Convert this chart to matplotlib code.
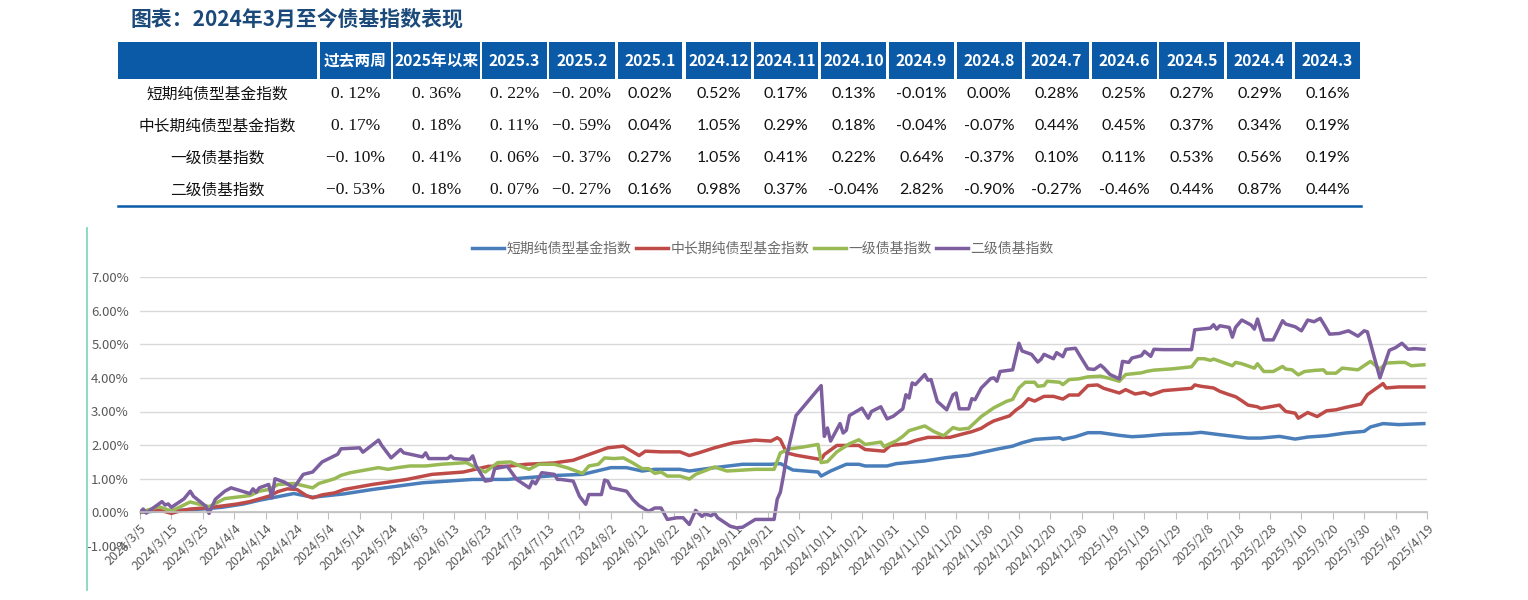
import matplotlib
matplotlib.use("Agg")
import matplotlib.pyplot as plt
import matplotlib.dates as mdates
import pandas as pd
from matplotlib.lines import Line2D
from matplotlib.patches import Rectangle
from matplotlib.ticker import FuncFormatter, FixedLocator

plt.rcParams['font.family'] = ['Noto Sans CJK SC', 'DejaVu Sans']

# ---------------- data ----------------
title = "图表：2024年3月至今债基指数表现"
series_names = ["短期纯债型基金指数", "中长期纯债型基金指数", "一级债基指数", "二级债基指数"]

table_cols = ["过去两周", "2025年以来", "2025.3", "2025.2", "2025.1", "2024.12", "2024.11",
              "2024.10", "2024.9", "2024.8", "2024.7", "2024.6", "2024.5", "2024.4", "2024.3"]
table_vals = [
    ["0.12%", "0.36%", "0.22%", "-0.20%", "0.02%", "0.52%", "0.17%", "0.13%", "-0.01%", "0.00%", "0.28%", "0.25%", "0.27%", "0.29%", "0.16%"],
    ["0.17%", "0.18%", "0.11%", "-0.59%", "0.04%", "1.05%", "0.29%", "0.18%", "-0.04%", "-0.07%", "0.44%", "0.45%", "0.37%", "0.34%", "0.19%"],
    ["-0.10%", "0.41%", "0.06%", "-0.37%", "0.27%", "1.05%", "0.41%", "0.22%", "0.64%", "-0.37%", "0.10%", "0.11%", "0.53%", "0.56%", "0.19%"],
    ["-0.53%", "0.18%", "0.07%", "-0.27%", "0.16%", "0.98%", "0.37%", "-0.04%", "2.82%", "-0.90%", "-0.27%", "-0.46%", "0.44%", "0.87%", "0.44%"],
]

short_dates = ["2024-03-05", "2024-03-11", "2024-03-17", "2024-03-25", "2024-03-31", "2024-04-07", "2024-04-12",
               "2024-04-17", "2024-04-23", "2024-04-29", "2024-05-04", "2024-05-09", "2024-05-18", "2024-06-03",
               "2024-06-19", "2024-06-30", "2024-07-06", "2024-07-16", "2024-07-24", "2024-08-02", "2024-08-07",
               "2024-08-12", "2024-08-16", "2024-08-24", "2024-08-27", "2024-09-04", "2024-09-13", "2024-09-22",
               "2024-09-25", "2024-09-29", "2024-10-07", "2024-10-08", "2024-10-11", "2024-10-16", "2024-10-20",
               "2024-10-22", "2024-10-29", "2024-11-01", "2024-11-10", "2024-11-17", "2024-11-24", "2024-11-28",
               "2024-11-30", "2024-12-03", "2024-12-08", "2024-12-11", "2024-12-15", "2024-12-18", "2024-12-23",
               "2024-12-24", "2024-12-28", "2025-01-01", "2025-01-05", "2025-01-11", "2025-01-15", "2025-01-19",
               "2025-01-25", "2025-02-03", "2025-02-06", "2025-02-12", "2025-02-21", "2025-02-25", "2025-03-03",
               "2025-03-08", "2025-03-12", "2025-03-18", "2025-03-24", "2025-03-30", "2025-04-01", "2025-04-05",
               "2025-04-10", "2025-04-18"]
short_vals = [0.00, 0.05, 0.06, 0.10, 0.15, 0.25, 0.36, 0.45, 0.56, 0.45, 0.50, 0.55, 0.68, 0.88,
              0.98, 0.98, 1.03, 1.10, 1.13, 1.33, 1.33, 1.23, 1.28, 1.28, 1.23, 1.33, 1.43, 1.43,
              1.45, 1.26, 1.20, 1.08, 1.23, 1.43, 1.43, 1.38, 1.38, 1.45, 1.53, 1.63, 1.70, 1.78,
              1.82, 1.88, 1.97, 2.07, 2.17, 2.19, 2.22, 2.17, 2.25, 2.37, 2.37, 2.29, 2.25, 2.27,
              2.32, 2.35, 2.38, 2.31, 2.21, 2.21, 2.26, 2.18, 2.24, 2.28, 2.36, 2.41, 2.54, 2.64,
              2.61, 2.64]

mid_dates = ["2024-03-05", "2024-03-09", "2024-03-12", "2024-03-15", "2024-03-18", "2024-03-21", "2024-03-27",
             "2024-04-01", "2024-04-05", "2024-04-09", "2024-04-12", "2024-04-15", "2024-04-18", "2024-04-21",
             "2024-04-24", "2024-04-27", "2024-04-29", "2024-05-02", "2024-05-06", "2024-05-09", "2024-05-18",
             "2024-05-29", "2024-06-06", "2024-06-16", "2024-06-24", "2024-06-30", "2024-07-06", "2024-07-15",
             "2024-07-17", "2024-07-21", "2024-07-26", "2024-08-01", "2024-08-06", "2024-08-11", "2024-08-13",
             "2024-08-18", "2024-08-24", "2024-08-27", "2024-08-30", "2024-09-04", "2024-09-10", "2024-09-17",
             "2024-09-22", "2024-09-24", "2024-09-25", "2024-09-27", "2024-09-30", "2024-10-08", "2024-10-09",
             "2024-10-13", "2024-10-20", "2024-10-22", "2024-10-28", "2024-10-30", "2024-11-04", "2024-11-07",
             "2024-11-11", "2024-11-18", "2024-11-22", "2024-11-25", "2024-11-28", "2024-11-30", "2024-12-02",
             "2024-12-07", "2024-12-09", "2024-12-11", "2024-12-13", "2024-12-15", "2024-12-18", "2024-12-21",
             "2024-12-24", "2024-12-26", "2024-12-29", "2025-01-01", "2025-01-04", "2025-01-06", "2025-01-11",
             "2025-01-13", "2025-01-16", "2025-01-19", "2025-01-21", "2025-01-25", "2025-02-03", "2025-02-04",
             "2025-02-06", "2025-02-10", "2025-02-12", "2025-02-15", "2025-02-17", "2025-02-19", "2025-02-21",
             "2025-02-24", "2025-02-25", "2025-03-03", "2025-03-05", "2025-03-08", "2025-03-09", "2025-03-12",
             "2025-03-15", "2025-03-18", "2025-03-21", "2025-03-24", "2025-03-29", "2025-03-31", "2025-04-03",
             "2025-04-05", "2025-04-06", "2025-04-10", "2025-04-18"]
mid_vals = [0.00, 0.08, 0.05, -0.03, 0.05, 0.10, 0.14,
            0.20, 0.25, 0.32, 0.40, 0.48, 0.62, 0.70,
            0.68, 0.50, 0.43, 0.52, 0.58, 0.68, 0.83,
            0.98, 1.13, 1.20, 1.37, 1.37, 1.43, 1.47,
            1.50, 1.55, 1.72, 1.92, 1.97, 1.69, 1.82,
            1.80, 1.80, 1.69, 1.77, 1.92, 2.07, 2.15,
            2.12, 2.22, 2.16, 1.77, 1.70, 1.57, 1.72,
            1.99, 1.99, 1.87, 1.82, 1.99, 2.04, 2.14,
            2.23, 2.23, 2.33, 2.40, 2.50, 2.62, 2.72,
            2.87, 3.04, 3.17, 3.38, 3.31, 3.45, 3.45,
            3.37, 3.49, 3.49, 3.77, 3.79, 3.69, 3.55,
            3.65, 3.52, 3.57, 3.49, 3.62, 3.69, 3.79,
            3.75, 3.70, 3.60, 3.50, 3.44, 3.32, 3.19,
            3.14, 3.09, 3.19, 3.00, 2.95, 2.80, 2.97,
            2.85, 3.02, 3.05, 3.12, 3.22, 3.50, 3.70,
            3.83, 3.70, 3.73, 3.73]

first_dates = ["2024-03-05", "2024-03-11", "2024-03-15", "2024-03-21", "2024-03-27", "2024-04-01", "2024-04-09",
               "2024-04-12", "2024-04-15", "2024-04-18", "2024-04-23", "2024-04-29", "2024-05-01", "2024-05-06",
               "2024-05-08", "2024-05-11", "2024-05-14", "2024-05-20", "2024-05-23", "2024-05-26", "2024-05-30",
               "2024-06-04", "2024-06-09", "2024-06-17", "2024-06-19", "2024-06-23", "2024-06-27", "2024-07-01",
               "2024-07-04", "2024-07-07", "2024-07-10", "2024-07-15", "2024-07-19", "2024-07-24", "2024-07-26",
               "2024-07-29", "2024-07-31", "2024-08-03", "2024-08-06", "2024-08-09", "2024-08-12", "2024-08-14",
               "2024-08-16", "2024-08-18", "2024-08-20", "2024-08-24", "2024-08-27", "2024-08-29", "2024-09-04",
               "2024-09-08", "2024-09-17", "2024-09-23", "2024-09-25", "2024-09-28", "2024-10-02", "2024-10-07",
               "2024-10-08", "2024-10-10", "2024-10-13", "2024-10-17", "2024-10-20", "2024-10-22", "2024-10-27",
               "2024-10-28", "2024-11-01", "2024-11-03", "2024-11-05", "2024-11-10", "2024-11-13", "2024-11-16",
               "2024-11-19", "2024-11-21", "2024-11-24", "2024-11-28", "2024-11-30", "2024-12-02", "2024-12-06",
               "2024-12-08", "2024-12-10", "2024-12-12", "2024-12-15", "2024-12-16", "2024-12-18", "2024-12-19",
               "2024-12-23", "2024-12-24", "2024-12-26", "2024-12-29", "2025-01-01", "2025-01-05", "2025-01-08",
               "2025-01-11", "2025-01-13", "2025-01-18", "2025-01-20", "2025-01-22", "2025-01-28", "2025-02-03",
               "2025-02-05", "2025-02-07", "2025-02-09", "2025-02-10", "2025-02-13", "2025-02-16", "2025-02-17",
               "2025-02-19", "2025-02-23", "2025-02-24", "2025-02-26", "2025-03-01", "2025-03-04", "2025-03-05",
               "2025-03-07", "2025-03-09", "2025-03-11", "2025-03-14", "2025-03-17", "2025-03-18", "2025-03-21",
               "2025-03-23", "2025-03-28", "2025-04-01", "2025-04-04", "2025-04-06", "2025-04-10", "2025-04-12",
               "2025-04-14", "2025-04-18"]
first_vals = [0.00, 0.17, 0.04, 0.31, 0.17, 0.41, 0.50,
              0.63, 0.68, 0.83, 0.86, 0.73, 0.86, 1.00,
              1.10, 1.18, 1.23, 1.33, 1.28, 1.33, 1.38,
              1.38, 1.43, 1.48, 1.38, 1.20, 1.48, 1.50,
              1.38, 1.28, 1.43, 1.43, 1.33, 1.16, 1.38,
              1.43, 1.62, 1.60, 1.62, 1.47, 1.30, 1.30,
              1.16, 1.20, 1.08, 1.08, 0.99, 1.13, 1.35,
              1.23, 1.28, 1.28, 1.77, 1.89, 1.94, 2.02,
              1.48, 1.51, 1.80, 2.04, 2.16, 2.02, 2.09,
              1.96, 2.13, 2.26, 2.43, 2.57, 2.40, 2.28,
              2.52, 2.47, 2.50, 2.85, 2.98, 3.11, 3.30,
              3.36, 3.70, 3.87, 3.87, 3.75, 3.77, 3.90,
              3.87, 3.80, 3.95, 3.97, 4.03, 4.05, 3.98,
              3.90, 4.10, 4.15, 4.20, 4.23, 4.27, 4.33,
              4.57, 4.57, 4.52, 4.56, 4.46, 4.36, 4.46,
              4.42, 4.29, 4.42, 4.19, 4.19, 4.34, 4.26,
              4.24, 4.09, 4.19, 4.22, 4.24, 4.14, 4.14,
              4.29, 4.24, 4.49, 4.26, 4.44, 4.46, 4.46,
              4.36, 4.39]

second_dates = ["2024-03-05", "2024-03-06", "2024-03-07", "2024-03-11", "2024-03-12", "2024-03-13", "2024-03-14",
                "2024-03-15", "2024-03-19", "2024-03-21", "2024-03-22", "2024-03-24", "2024-03-26", "2024-03-27",
                "2024-03-29", "2024-04-01", "2024-04-03", "2024-04-09", "2024-04-10", "2024-04-11", "2024-04-12",
                "2024-04-15", "2024-04-16", "2024-04-17", "2024-04-20", "2024-04-23", "2024-04-26", "2024-04-29",
                "2024-05-02", "2024-05-07", "2024-05-08", "2024-05-14", "2024-05-15", "2024-05-20", "2024-05-21",
                "2024-05-24", "2024-05-27", "2024-05-28", "2024-06-03", "2024-06-04", "2024-06-05", "2024-06-11",
                "2024-06-12", "2024-06-13", "2024-06-18", "2024-06-19", "2024-06-20", "2024-06-23", "2024-06-25",
                "2024-06-26", "2024-06-30", "2024-07-03", "2024-07-07", "2024-07-08", "2024-07-09", "2024-07-11",
                "2024-07-15", "2024-07-16", "2024-07-17", "2024-07-21", "2024-07-23", "2024-07-25", "2024-07-26",
                "2024-07-30", "2024-07-31", "2024-08-01", "2024-08-02", "2024-08-07", "2024-08-09", "2024-08-11",
                "2024-08-14", "2024-08-16", "2024-08-18", "2024-08-20", "2024-08-23", "2024-08-25", "2024-08-27",
                "2024-08-29", "2024-08-31", "2024-09-01", "2024-09-03", "2024-09-04", "2024-09-05", "2024-09-09",
                "2024-09-11", "2024-09-13", "2024-09-17", "2024-09-21", "2024-09-23", "2024-09-24", "2024-09-25",
                "2024-09-26", "2024-09-27", "2024-09-30", "2024-10-08", "2024-10-09", "2024-10-10", "2024-10-11",
                "2024-10-14", "2024-10-15", "2024-10-16", "2024-10-17", "2024-10-21", "2024-10-23", "2024-10-24",
                "2024-10-27", "2024-10-29", "2024-10-31", "2024-11-03", "2024-11-04", "2024-11-05", "2024-11-06",
                "2024-11-07", "2024-11-10", "2024-11-11", "2024-11-12", "2024-11-14", "2024-11-17", "2024-11-19",
                "2024-11-20", "2024-11-21", "2024-11-24", "2024-11-25", "2024-11-26", "2024-11-28", "2024-12-01",
                "2024-12-02", "2024-12-03", "2024-12-04", "2024-12-08", "2024-12-10", "2024-12-11", "2024-12-14",
                "2024-12-16", "2024-12-17", "2024-12-18", "2024-12-21", "2024-12-22", "2024-12-24", "2024-12-25",
                "2024-12-28", "2024-12-30", "2025-01-01", "2025-01-03", "2025-01-05", "2025-01-06", "2025-01-08",
                "2025-01-11", "2025-01-12", "2025-01-14", "2025-01-15", "2025-01-18", "2025-01-19", "2025-01-21",
                "2025-01-22", "2025-01-25", "2025-02-03", "2025-02-04", "2025-02-06", "2025-02-09", "2025-02-10",
                "2025-02-11", "2025-02-12", "2025-02-15", "2025-02-16", "2025-02-17", "2025-02-19", "2025-02-22",
                "2025-02-23", "2025-02-24", "2025-02-26", "2025-03-01", "2025-03-04", "2025-03-05", "2025-03-08",
                "2025-03-10", "2025-03-12", "2025-03-14", "2025-03-16", "2025-03-17", "2025-03-19", "2025-03-22",
                "2025-03-25", "2025-03-28", "2025-03-30", "2025-03-31", "2025-04-04", "2025-04-07", "2025-04-09",
                "2025-04-11", "2025-04-13", "2025-04-15", "2025-04-18"]
second_vals = [0.00, 0.10, -0.02, 0.25, 0.32, 0.22, 0.25,
               0.15, 0.40, 0.63, 0.48, 0.33, 0.18, -0.03,
               0.39, 0.63, 0.73, 0.56, 0.70, 0.60, 0.73,
               0.83, 0.43, 1.00, 0.90, 0.73, 1.13, 1.20,
               1.50, 1.73, 1.89, 1.92, 1.79, 2.15, 1.99,
               1.62, 1.87, 1.77, 1.65, 1.77, 1.60, 1.60,
               1.68, 1.60, 1.57, 1.68, 1.40, 0.93, 0.96,
               1.30, 1.37, 0.98, 0.73, 0.93, 0.85, 1.18,
               1.13, 0.98, 0.98, 0.93, 0.48, 0.24, 0.53,
               0.53, 0.96, 0.93, 0.73, 0.63, 0.38, 0.20,
               0.03, 0.13, 0.13, -0.21, -0.16, -0.16, -0.36,
               0.06, -0.12, -0.05, -0.10, -0.02, -0.16, -0.41,
               -0.46, -0.44, -0.21, -0.21, -0.21, 0.39, 0.60,
               1.10, 1.67, 2.88, 3.77, 2.26, 2.51, 2.12,
               2.64, 2.36, 2.44, 2.88, 3.10, 2.80, 3.00,
               3.14, 2.78, 2.86, 3.08, 3.50, 3.40, 3.85,
               3.80, 4.10, 3.93, 3.95, 3.30, 3.05, 3.50,
               3.55, 3.08, 3.08, 3.38, 3.35, 3.70, 3.98,
               4.00, 3.90, 4.19, 4.24, 5.03, 4.80, 4.70,
               4.47, 4.55, 4.70, 4.57, 4.75, 4.63, 4.85,
               4.88, 4.57, 4.27, 4.25, 4.38, 4.30, 4.10,
               3.97, 4.49, 4.46, 4.59, 4.66, 4.79, 4.64,
               4.85, 4.84, 4.84, 5.43, 5.45, 5.48, 5.58,
               5.45, 5.55, 5.50, 5.21, 5.50, 5.72, 5.57,
               5.45, 5.75, 5.13, 5.13, 5.70, 5.60, 5.52,
               5.40, 5.72, 5.67, 5.77, 5.62, 5.30, 5.32,
               5.40, 5.24, 5.40, 5.37, 4.00, 4.82, 4.90,
               5.03, 4.85, 4.87, 4.85]

y_ticks = [-1, 0, 1, 2, 3, 4, 5, 6, 7]
x_start, x_end = "2024-03-05", "2025-04-19"

# ---------------- figure ----------------
W, H = 1528, 600
fig = plt.figure(figsize=(W / 100, H / 100), dpi=100)
fig.patch.set_facecolor("white")

def fx(x):
    return x / W

def fy(y):
    return 1 - y / H

def dnum(lst):
    return [mdates.date2num(pd.Timestamp(s).to_pydatetime()) for s in lst]

# title
fig.text(fx(131), fy(19), title, fontsize=15, fontweight="bold", color="#1b4a7a",
         ha="left", va="center")

# table
col_edges = [(118, 317), (319.5, 391), (393, 480), (482, 547), (549, 614.5), (618, 682.4),
             (685.8, 751.2), (754, 818), (821, 886), (889, 954), (957, 1021.7), (1024.6, 1088.6),
             (1091.5, 1156.5), (1159.4, 1224.3), (1227.2, 1292.2), (1295, 1360)]
hdr_blue = "#0a5aa8"
hdr_top, hdr_bot = 41.5, 79
for (x0, x1) in col_edges:
    fig.add_artist(Rectangle((fx(x0), fy(hdr_bot)), fx(x1) - fx(x0), fy(hdr_top) - fy(hdr_bot),
                             transform=fig.transFigure, facecolor=hdr_blue, edgecolor="none"))
for i, c in enumerate(table_cols):
    x0, x1 = col_edges[i + 1]
    fig.text(fx((x0 + x1) / 2), fy(60.5), c, fontsize=11.3, fontweight="bold", color="white",
             ha="center", va="center")

row_y = [94.5, 126.5, 158, 190]
for r, name in enumerate(series_names):
    x0, x1 = col_edges[0]
    fig.text(fx((x0 + x1) / 2), fy(row_y[r]), name, fontsize=11.3, color="#111111",
             ha="center", va="center")
    for c, v in enumerate(table_vals[r]):
        x0, x1 = col_edges[c + 1]
        if c < 4:
            txt = v.replace(".", ". ").replace("-", "−")
            fig.text(fx((x0 + x1) / 2), fy(row_y[r]), txt, fontsize=12.5,
                     family=["Liberation Serif", "Noto Sans CJK SC"], color="#111111",
                     ha="center", va="center")
        else:
            fig.text(fx((x0 + x1) / 2), fy(row_y[r]), v, fontsize=11.5, family=["Lato", "DejaVu Sans"],
                     color="#111111", ha="center", va="center")

fig.add_artist(Line2D([fx(118), fx(1361)], [fy(206), fy(206)], transform=fig.transFigure,
                      color=hdr_blue, lw=1.8))

# left mint line
fig.add_artist(Line2D([fx(87), fx(87)], [fy(228), fy(590)], transform=fig.transFigure,
                      color="#86d8bb", lw=1.3))

# chart
ax = fig.add_axes([fx(140), fy(546), fx(1427) - fx(140), fy(277) - fy(546)])
colors = ["#4a7ebb", "#be4b48", "#98b954", "#7d5fa0"]
series = [(short_dates, short_vals), (mid_dates, mid_vals), (first_dates, first_vals), (second_dates, second_vals)]
handles = []
for (d, v), col, name in zip(series, colors, series_names):
    ln, = ax.plot(dnum(d), v, color=col, lw=2.5, solid_joinstyle="round", label=name)
    handles.append(ln)

ax.set_ylim(-1, 7)
ax.set_yticks(y_ticks)
ax.yaxis.set_major_formatter(FuncFormatter(lambda v, p: f"{v:.2f}%"))
x0n, x1n = dnum([x_start, x_end])
ax.set_xlim(x0n, x1n)
tick_dates = pd.date_range(x_start, x_end, freq="10D")
tick_nums = dnum([t.strftime("%Y-%m-%d") for t in tick_dates])
tick_labels = [f"{t.year}/{t.month}/{t.day}" for t in tick_dates]
ax.xaxis.set_major_locator(FixedLocator(tick_nums))
ax.xaxis.set_major_formatter(FuncFormatter(lambda v, p: tick_labels[p] if p is not None and p < len(tick_labels) else ""))
ax.grid(axis="y", color="#d9d9d9", lw=1)
ax.set_axisbelow(True)
for s in ["top", "right", "left"]:
    ax.spines[s].set_visible(False)
ax.spines["bottom"].set_position(("data", 0))
ax.spines["bottom"].set_color("#bfbfbf")
ax.spines["bottom"].set_linewidth(1.2)
ax.tick_params(axis="x", direction="out", length=5, color="#bfbfbf", pad=2,
               labelsize=9, labelcolor="#595959", labelrotation=45)
for lab in ax.get_xticklabels():
    lab.set_ha("right")
    lab.set_rotation_mode("anchor")
ax.tick_params(axis="y", length=0, pad=8, labelsize=9.5, labelcolor="#595959")
ax.set_facecolor("none")

fig.legend(handles, series_names, loc="center", bbox_to_anchor=(fx(763), fy(249)), ncol=4,
           frameon=False, handlelength=2.3, handletextpad=0.2, columnspacing=0.3,
           fontsize=10, labelcolor="#6b6b6b")

fig.savefig("out.png", dpi=100, facecolor="white")
